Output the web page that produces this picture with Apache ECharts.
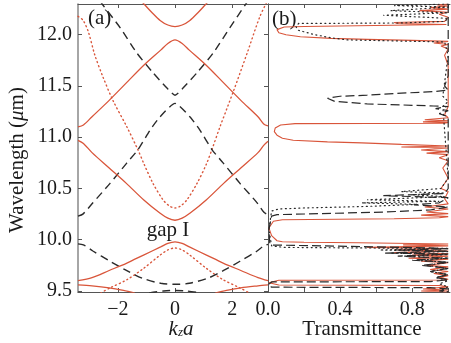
<!DOCTYPE html>
<html><head><meta charset="utf-8">
<script src="https://cdn.jsdelivr.net/npm/echarts@6/dist/echarts.min.js"></script>
<style>html,body{margin:0;padding:0;background:#fff}#c{width:451px;height:343px}</style>
</head><body><div id="c"></div>
<script>
// ---------- Panel (a): band structure, points are [kz*a, wavelength um] ----------
var band1Red = [[-1.15,12.32],[-1.05,12.29],[-0.8,12.215],[-0.52,12.14],[-0.25,12.095],[0,12.08],[0.25,12.095],[0.52,12.14],[0.8,12.215],[1.05,12.29],[1.15,12.32]];
var band2Red = [[-3.39,11.10],[-3.2,11.12],[-2.9,11.20],[-2.3,11.36],[-1.7,11.53],[-1.1,11.70],[-0.5,11.85],[-0.25,11.915],[0,11.95],[0.25,11.915],[0.5,11.85],[1.1,11.70],[1.7,11.53],[2.3,11.36],[2.9,11.20],[3.1,11.13],[3.25,11.11]];
var band3Red = [[-3.39,10.97],[-3.2,10.94],[-2.9,10.85],[-2.3,10.70],[-1.7,10.55],[-1.1,10.39],[-0.53,10.26],[-0.25,10.21],[0,10.19],[0.25,10.21],[0.53,10.26],[1.1,10.39],[1.7,10.55],[2.3,10.70],[2.9,10.85],[3.1,10.92],[3.25,10.96]];
var band4Red = [[-3.39,9.60],[-2.9,9.63],[-2.3,9.70],[-1.7,9.77],[-1.1,9.85],[-0.5,9.93],[-0.25,9.965],[0,9.98],[0.25,9.965],[0.5,9.93],[1.1,9.85],[1.7,9.77],[2.3,9.70],[2.9,9.63],[3.25,9.60]];
var band5RedL = [[-3.39,9.56],[-2.9,9.55],[-2.3,9.53],[-1.8,9.505],[-1.4,9.48]];
var band5RedR = [[1.4,9.48],[1.8,9.505],[2.3,9.53],[2.9,9.55],[3.25,9.56]];
var dot1Red = [[-3.39,12.18],[-3.21,12.14],[-3.03,12.03],[-2.8,11.80],[-2.52,11.59],[-2.17,11.36],[-1.68,11.10],[-1.3,10.88],[-1.1,10.75],[-0.77,10.55],[-0.42,10.39],[-0.2,10.33],[0,10.31],[0.2,10.33],[0.42,10.39],[0.77,10.55],[1.1,10.74],[1.29,10.88],[1.57,11.10],[2.03,11.44],[2.52,11.82],[2.97,12.18],[3.25,12.34]];
var dot2Red = [[-2.6,9.48],[-2.27,9.53],[-1.68,9.61],[-1.1,9.72],[-0.52,9.85],[-0.25,9.90],[0,9.92],[0.25,9.90],[0.52,9.85],[1.1,9.72],[1.68,9.61],[2.27,9.53],[2.6,9.48]];
var dash1Blk = [[-2.62,12.33],[-2.52,12.29],[-1.92,12.07],[-1.33,11.82],[-0.77,11.63],[-0.28,11.48],[0,11.41],[0.28,11.48],[0.77,11.63],[1.33,11.82],[1.92,12.07],[2.45,12.29],[2.55,12.33]];
var dash2Blk = [[-3.39,10.23],[-3.22,10.25],[-2.87,10.36],[-2.27,10.55],[-1.68,10.75],[-1.29,10.88],[-0.87,11.07],[-0.52,11.20],[0,11.33],[0.52,11.20],[0.87,11.07],[1.29,10.88],[1.68,10.75],[2.27,10.55],[2.87,10.36],[3.1,10.27],[3.25,10.24]];
var dash3Blk = [[-3.39,9.96],[-3.2,9.95],[-2.87,9.89],[-2.27,9.79],[-1.7,9.70],[-1.15,9.625],[-0.5,9.575],[0,9.565],[0.5,9.575],[1.15,9.625],[1.7,9.70],[2.27,9.79],[2.87,9.89],[3.1,9.94],[3.25,9.955]];
var dash4Blk = [[-0.9,9.48],[-0.4,9.50],[0,9.505],[0.4,9.50],[0.9,9.48]];

// ---------- Panel (b): transmittance, points are [wavelength um, T] ----------
var transRed = [[12.30,1.00],[12.29,0.94],[12.28,1.00],[12.265,0.90],[12.25,1.00],[12.235,0.84],[12.22,1.00],[12.20,0.95],[12.17,1.00],[12.13,0.98],[12.12,0.70],[12.11,0.72],[12.10,0.99],[12.085,0.98],[12.08,0.20],[12.075,0.09],[12.05,0.05],[12.02,0.06],[12.00,0.10],[11.98,0.18],[11.965,0.35],[11.955,0.55],[11.945,0.80],[11.935,1.00],[11.92,0.92],[11.905,1.00],[11.89,0.96],[11.86,1.00],[11.80,0.98],[11.70,1.00],[11.50,1.00],[11.30,1.00],[11.22,0.98],[11.19,1.00],[11.17,0.87],[11.16,1.00],[11.15,0.86],[11.143,1.00],[11.137,0.98],[11.133,0.15],[11.12,0.07],[11.09,0.04],[11.055,0.035],[11.02,0.05],[10.99,0.08],[10.97,0.14],[10.955,0.33],[10.945,0.52],[10.93,0.74],[10.915,1.00],[10.905,0.74],[10.895,1.00],[10.875,0.85],[10.86,1.00],[10.845,0.88],[10.83,1.00],[10.80,0.95],[10.77,1.00],[10.70,0.97],[10.60,1.00],[10.50,0.96],[10.47,1.00],[10.40,0.98],[10.35,1.00],[10.32,0.87],[10.30,1.00],[10.27,0.88],[10.255,1.00],[10.24,0.85],[10.225,1.00],[10.215,0.95],[10.205,0.70],[10.195,0.08],[10.18,0.03],[10.115,0.005],[10.04,0.02],[9.99,0.05],[9.98,0.08],[9.975,0.20],[9.97,0.50],[9.963,0.80],[9.958,1.00],[9.95,0.75],[9.94,1.00],[9.925,0.55],[9.915,1.00],[9.90,0.72],[9.89,1.00],[9.875,0.70],[9.865,1.00],[9.85,0.80],[9.84,1.00],[9.82,0.78],[9.81,1.00],[9.79,0.85],[9.775,1.00],[9.75,0.88],[9.735,1.00],[9.71,0.90],[9.69,1.00],[9.67,0.92],[9.65,1.00],[9.63,0.95],[9.615,1.00],[9.607,0.98],[9.604,0.06],[9.58,0.005],[9.558,0.06],[9.553,0.95],[9.54,1.00],[9.52,0.86],[9.51,1.00],[9.50,0.85],[9.49,1.00]];
var transDot = [[12.30,1.00],[12.285,0.70],[12.27,1.00],[12.235,0.68],[12.215,1.00],[12.19,0.64],[12.16,1.00],[12.13,0.98],[12.115,0.74],[12.11,0.17],[12.08,0.155],[12.045,0.166],[12.00,0.26],[11.97,0.35],[11.95,0.44],[11.94,0.70],[11.93,0.98],[11.80,1.00],[11.40,0.97],[11.35,1.00],[11.30,0.97],[10.60,1.00],[10.55,0.98],[10.50,0.96],[10.47,0.74],[10.455,0.98],[10.44,0.80],[10.42,0.98],[10.39,0.55],[10.375,0.95],[10.36,0.52],[10.345,0.83],[10.325,0.55],[10.31,0.20],[10.30,0.06],[10.28,0.02],[10.10,0.005],[9.94,0.02],[9.925,0.09],[9.92,0.50],[9.915,1.00],[9.90,0.62],[9.885,1.00],[9.87,0.68],[9.855,1.00],[9.84,0.75],[9.82,1.00],[9.80,0.82],[9.78,1.00],[9.75,0.88],[9.72,1.00],[9.69,0.90],[9.66,1.00],[9.63,0.93],[9.60,1.00],[9.57,0.95],[9.54,1.00],[9.51,0.96],[9.49,1.00]];
var transDash = [[12.30,1.00],[11.60,1.00],[11.50,0.98],[11.46,1.00],[11.445,0.92],[11.43,0.74],[11.41,0.55],[11.40,0.40],[11.38,0.33],[11.35,0.37],[11.325,0.55],[11.315,0.74],[11.305,0.92],[11.30,1.00],[11.28,0.93],[11.26,1.00],[11.23,0.95],[11.20,1.00],[10.50,1.00],[10.45,0.98],[10.43,0.64],[10.41,1.00],[10.36,0.95],[10.34,0.81],[10.32,1.00],[10.29,0.90],[10.27,0.64],[10.255,0.30],[10.245,0.05],[10.23,0.02],[10.10,0.005],[9.96,0.01],[9.948,0.03],[9.94,0.30],[9.93,0.60],[9.92,0.90],[9.91,1.00],[9.90,0.70],[9.89,1.00],[9.87,0.65],[9.86,1.00],[9.84,0.72],[9.82,1.00],[9.80,0.80],[9.78,1.00],[9.75,0.85],[9.72,1.00],[9.69,0.90],[9.66,1.00],[9.63,0.93],[9.61,1.00],[9.60,0.95],[9.592,0.90],[9.588,0.02],[9.56,0.0],[9.537,0.02],[9.532,0.90],[9.52,1.00],[9.50,0.95],[9.49,1.00]];

// ---------- ticks ----------
var yTicks = [9.5, 10.0, 10.5, 11.0, 11.5, 12.0];
var kTicks = [-2, 0, 2];
var tTicks = [0, 0.2, 0.4, 0.6, 0.8, 1.0];
var tLabels = [0, 0.4, 0.8];

var RED = '#d9553a', BLK = '#2a2a2a', AX = '#555';
var SERIF = 'Liberation Serif';
var FS = 20;

function swap(a){ return a.map(function(p){ return [p[1], p[0]]; }); }
function leftLine(d, type, color, smooth){
  return {type:'line', xAxisIndex:0, yAxisIndex:0, data:d, showSymbol:false, symbol:'none', smooth:smooth, animation:false,
    lineStyle:{color:color, width: type==='solid'?1.3:1.4, type:type==='dot'?[1,3.2]:(type==='dash'?[8,5]:'solid'), cap: type==='dot'?'round':'butt'}};
}
function rightLine(d, type, color){
  return {type:'line', xAxisIndex:1, yAxisIndex:2, data:swap(d), showSymbol:false, symbol:'none', animation:false,
    lineStyle:{color:color, width: type==='solid'?1.1:1.2, type:type==='dot'?[1,3.5]:(type==='dash'?[9,4]:'solid'), cap: type==='dot'?'round':'butt'}};
}

function axLine(c, w){ return {show:true, onZero:false, lineStyle:{color:c||AX, width:w||1}}; }
var lab = {fontFamily:SERIF, fontSize:FS, color:'#1a1a1a'};

var chart = echarts.init(document.getElementById('c'), null, {renderer:'canvas'});
chart.setOption({
  animation:false,
  grid:[{left:78, top:4, width:190, height:288}, {left:268, top:4, width:182, height:288}],
  xAxis:[
    {gridIndex:0, type:'value', min:-3.39, max:3.25, position:'bottom', axisLine:axLine(), splitLine:{show:false},
     axisTick:{inside:true, length:4, customValues:kTicks, lineStyle:{color:AX}},
     axisLabel:Object.assign({customValues:kTicks, margin:8, formatter:function(v){return v<0?'\u2212'+Math.abs(v):String(v);}}, lab)},
    {gridIndex:1, type:'value', min:0, max:1.01, position:'bottom', axisLine:axLine(), splitLine:{show:false},
     axisTick:{inside:true, length:4, customValues:tTicks, lineStyle:{color:AX}},
     axisLabel:Object.assign({customValues:tLabels, margin:8, formatter:function(v){return v.toFixed(1);}}, lab)},
    {gridIndex:0, type:'value', min:-3.39, max:3.25, position:'top', axisLine:axLine(), splitLine:{show:false},
     axisTick:{inside:true, length:4, customValues:kTicks, lineStyle:{color:AX}}, axisLabel:{show:false}},
    {gridIndex:1, type:'value', min:0, max:1.01, position:'top', axisLine:axLine(), splitLine:{show:false},
     axisTick:{inside:true, length:4, customValues:tTicks, lineStyle:{color:AX}}, axisLabel:{show:false}}
  ],
  yAxis:[
    {gridIndex:0, type:'value', min:9.49, max:12.30, position:'left', axisLine:axLine('#888',1.5), splitLine:{show:false},
     axisTick:{inside:true, length:4, customValues:yTicks, lineStyle:{color:AX}},
     axisLabel:Object.assign({customValues:yTicks, margin:6, formatter:function(v){return v.toFixed(1);}}, lab)},
    {gridIndex:0, type:'value', min:9.49, max:12.30, position:'right', axisLine:axLine(), splitLine:{show:false},
     axisTick:{inside:true, length:4, customValues:yTicks, lineStyle:{color:AX}}, axisLabel:{show:false}},
    {gridIndex:1, type:'value', min:9.49, max:12.30, position:'left', axisLine:axLine(), splitLine:{show:false},
     axisTick:{show:false}, axisLabel:{show:false}},
    {gridIndex:1, type:'value', min:9.49, max:12.30, position:'right', axisLine:{show:false, onZero:false}, splitLine:{show:false},
     axisTick:{show:false}, axisLabel:{show:false}}
  ],
  series:[
    leftLine(dot1Red,'dot',RED,0.3), leftLine(dot2Red,'dot',RED,0.3),
    leftLine(dash1Blk,'dash',BLK,0.2), leftLine(dash2Blk,'dash',BLK,0.2), leftLine(dash3Blk,'dash',BLK,0.3), leftLine(dash4Blk,'dash',BLK,0.3),
    leftLine(band1Red,'solid',RED,0.3), leftLine(band2Red,'solid',RED,0.3), leftLine(band3Red,'solid',RED,0.3),
    leftLine(band4Red,'solid',RED,0.3), leftLine(band5RedL,'solid',RED,0.3), leftLine(band5RedR,'solid',RED,0.3),
    rightLine(transRed,'solid',RED), rightLine(transDash,'dash',BLK), rightLine(transDot,'dot',BLK)
  ],
  graphic:[
    {type:'text', left:88, top:8, style:{text:'(a)', fontFamily:SERIF, fontSize:21, fill:'#1a1a1a'}},
    {type:'text', left:272, top:9, style:{text:'(b)', fontFamily:SERIF, fontSize:21, fill:'#1a1a1a'}},
    {type:'text', x:168, y:230, style:{text:'gap I', fontFamily:SERIF, fontSize:21, fill:'#1a1a1a', align:'center', verticalAlign:'middle'}},
    {type:'text', x:181, y:329, style:{text:'{i|k}{s|z}{i|a}', fontFamily:SERIF, fontSize:21, fill:'#1a1a1a', align:'center', verticalAlign:'middle',
      rich:{i:{fontFamily:SERIF, fontSize:21, fontStyle:'italic', fill:'#1a1a1a'}, s:{fontFamily:SERIF, fontSize:13, fontStyle:'italic', fill:'#1a1a1a', padding:[8,0,0,0]}}}},
    {type:'text', x:362, y:329, style:{text:'Transmittance', fontFamily:SERIF, fontSize:21, fill:'#1a1a1a', align:'center', verticalAlign:'middle'}},
    {type:'text', x:17, y:160, rotation:Math.PI/2, style:{text:'Wavelength ({i|\u03bc}m)', fontFamily:SERIF, fontSize:21, fill:'#1a1a1a', align:'center', verticalAlign:'middle',
      rich:{i:{fontFamily:SERIF, fontSize:21, fontStyle:'italic', fill:'#1a1a1a'}}}}
  ]
});
</script></body></html>
